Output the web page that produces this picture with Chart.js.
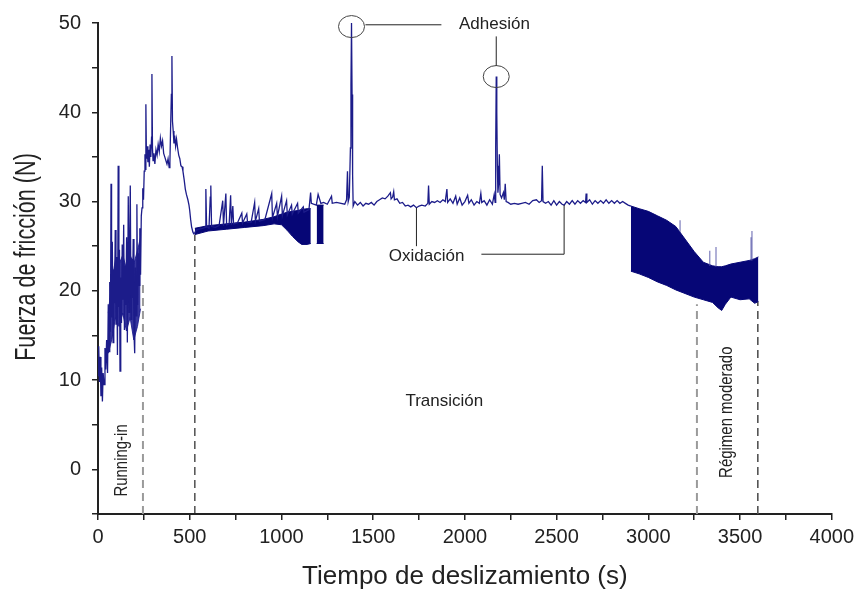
<!DOCTYPE html>
<html>
<head>
<meta charset="utf-8">
<script src="https://cdn.jsdelivr.net/npm/chart.js@4.4.1/dist/chart.umd.min.js"></script>
<style>
	body { margin: 0; background: #fff; }
	#chart { display: block; }
</style>
</head>
<body>
<canvas id="chart" width="859" height="591"></canvas>
<script>
// main friction trace, time (s) / force (N)
const mainTime = [
	0, 4, 8, 12, 16, 20, 24, 28, 33, 38, 42, 47, 52, 56, 60, 64, 68, 71, 74, 78,
	82, 86, 90, 94, 98, 102, 106, 110, 114, 117, 120, 124, 128, 132, 136, 140, 144, 148, 152, 156,
	160, 165, 169, 172, 176, 180, 184, 188, 192, 196, 200, 204, 208, 212, 216, 220, 224, 228, 232, 236,
	240, 244, 248, 252, 256, 259, 261, 264, 268, 272, 276, 280, 284, 288, 292, 294, 297, 300, 305, 310,
	316, 322, 328, 334, 340, 346, 352, 358, 364, 370, 376, 382, 388, 392, 396, 400, 403, 406, 410, 414,
	418, 423, 428, 434, 440, 446, 452, 458, 463, 470, 476, 482, 490, 496, 500, 505, 510, 517, 522, 528,
	535, 550, 570, 585, 588, 592, 605, 612, 615, 619, 640, 660, 680, 684, 697, 701, 715, 723, 727, 735,
	739, 760, 784, 788, 811, 815, 835, 854, 858, 876, 880, 910, 947, 951, 974, 978, 1001, 1005, 1028, 1032,
	1055, 1059, 1088, 1092, 1119, 1123, 1150, 1159, 1163, 1175, 1190, 1200, 1215, 1230, 1250, 1273, 1277, 1300, 1325, 1345,
	1355, 1360, 1364, 1370, 1376, 1379, 1382, 1385, 1388, 1391, 1400, 1415, 1430, 1445, 1460, 1475, 1490, 1505, 1520, 1535,
	1550, 1565, 1580, 1594, 1598, 1606, 1612, 1616, 1630, 1645, 1660, 1675, 1690, 1705, 1720, 1736, 1750, 1765, 1784, 1798,
	1802, 1806, 1820, 1835, 1850, 1865, 1880, 1893, 1902, 1906, 1920, 1935, 1950, 1958, 1972, 1985, 2000, 2015, 2022, 2035,
	2050, 2065, 2079, 2087, 2092, 2105, 2120, 2135, 2150, 2160, 2165, 2168, 2171, 2174, 2177, 2180, 2184, 2188, 2192, 2200,
	2210, 2215, 2220, 2225, 2235, 2250, 2270, 2290, 2310, 2330, 2350, 2370, 2390, 2405, 2418, 2422, 2426, 2440, 2455, 2470,
	2485, 2500, 2515, 2530, 2541, 2555, 2570, 2585, 2600, 2615, 2630, 2645, 2658, 2661, 2665, 2680, 2695, 2710, 2725, 2740,
	2755, 2770, 2785, 2800, 2815, 2830, 2845, 2860, 2875, 2890, 2905
];
const mainForce = [
	10.5, 13.8, 9.8, 12.6, 8.2, 11.4, 7.6, 10.8, 9.5, 13.6, 11.2, 14.5, 10.8, 18.5, 13.2, 21.0, 15.4, 32.0, 17.0, 25.5,
	14.2, 22.4, 18.6, 26.8, 16.2, 23.8, 12.8, 34.0, 18.2, 24.6, 11.0, 21.5, 16.4, 25.2, 19.0, 27.4, 15.6, 22.8, 18.4, 26.0,
	14.2, 30.6, 17.6, 24.2, 31.8, 16.8, 23.6, 19.2, 25.8, 15.4, 13.0, 22.6, 17.2, 29.7, 18.4, 24.2, 20.6, 27.0, 21.8, 28.4,
	29.3, 31.5, 30.2, 33.4, 35.3, 33.6, 40.9, 34.8, 36.2, 34.4, 35.8, 33.9, 36.4, 35.0, 37.2, 44.3, 36.0, 34.6, 35.4, 34.2,
	35.8, 35.2, 36.4, 35.6, 37.1, 36.2, 36.8, 35.4, 35.0, 34.6, 34.2, 34.8, 33.8, 34.4, 38.5, 42.0, 46.3, 39.0, 37.9, 36.5,
	37.4, 36.2, 37.0, 36.0, 35.2, 34.8, 34.0, 33.9, 33.4, 32.4, 31.4, 30.8, 30.2, 29.6, 29.0, 28.0, 27.2, 26.6, 26.4, 26.5,
	26.8, 26.9, 27.0, 27.1, 31.4, 27.2, 27.0, 30.5, 31.8, 27.2, 27.1, 27.3, 30.1, 27.3, 30.9, 27.4, 27.5, 30.7, 27.4, 29.5,
	27.5, 27.6, 28.7, 27.6, 28.6, 27.7, 27.7, 29.9, 27.8, 29.2, 27.8, 28.0, 30.9, 28.2, 29.8, 28.3, 30.6, 28.4, 30.1, 28.5,
	29.6, 28.6, 29.8, 28.7, 29.4, 28.8, 29.1, 31.0, 29.8, 29.7, 29.6, 30.8, 29.8, 29.9, 29.7, 30.6, 29.8, 29.9, 29.8, 29.7,
	30.2, 33.4, 30.0, 30.5, 36.0, 43.0, 50.0, 42.0, 33.0, 29.5, 30.0, 29.6, 29.9, 29.5, 29.8, 29.7, 29.9, 29.6, 30.0, 30.2,
	30.4, 30.3, 30.6, 31.0, 30.3, 30.5, 31.1, 30.2, 30.3, 29.8, 29.9, 29.5, 29.6, 29.4, 29.6, 29.3, 29.5, 29.6, 29.5, 29.8,
	31.8, 29.7, 30.0, 29.9, 30.1, 29.9, 30.2, 30.0, 31.4, 29.9, 30.3, 29.8, 30.6, 29.7, 30.4, 29.6, 30.0, 30.7, 29.8, 30.2,
	29.6, 30.0, 29.8, 30.9, 29.9, 30.1, 29.6, 30.2, 29.7, 30.8, 29.9, 36.0, 44.0, 40.0, 34.0, 31.0, 32.0, 35.3, 30.8, 30.4,
	31.0, 30.2, 32.0, 30.0, 29.9, 29.7, 29.8, 29.7, 29.8, 29.9, 29.7, 30.1, 30.2, 29.9, 30.1, 34.0, 30.0, 29.8, 30.0, 29.6,
	30.1, 29.6, 30.0, 29.7, 29.6, 30.0, 29.7, 30.1, 29.7, 30.1, 29.8, 30.1, 29.9, 30.9, 29.9, 30.2, 29.7, 30.1, 29.8, 30.1,
	29.8, 30.2, 29.8, 30.1, 29.8, 30.1, 29.8, 30.0, 29.8, 29.6, 29.5
];

// dark core of the running-in scatter
const coreTime  = [56, 75, 95, 115, 135, 155, 175, 195, 215, 232];
const coreUpper = [17.5, 21.0, 23.5, 23.0, 24.0, 22.5, 24.0, 23.0, 24.5, 26.0];
const coreLower = [13.0, 14.5, 17.0, 16.0, 17.5, 15.5, 17.0, 14.5, 16.0, 18.0];

// dense band after running-in (transition zone)
const bandATime  = [528, 600, 700, 800, 900, 960, 1000, 1030, 1060, 1090, 1110, 1140, 1160];
const bandAUpper = [27.0, 27.3, 27.5, 27.7, 28.0, 28.3, 28.6, 28.8, 28.9, 29.0, 29.1, 29.2, 29.2];
const bandALower = [26.3, 26.7, 26.9, 27.1, 27.3, 27.5, 27.4, 26.8, 26.1, 25.5, 25.2, 25.2, 25.3];
const bandA2Time  = [1192, 1230];
const bandA2Upper = [29.6, 29.6];
const bandA2Lower = [25.3, 25.3];

// dense band at the end of the test (mild wear regime)
const bandBTime  = [2905, 2950, 3000, 3050, 3100, 3150, 3200, 3250, 3300, 3350, 3380, 3400, 3420, 3450, 3500, 3550, 3580, 3600];
const bandBUpper = [29.5, 29.2, 28.9, 28.4, 27.9, 27.2, 25.8, 24.4, 23.2, 22.8, 22.7, 22.7, 22.8, 23.0, 23.2, 23.4, 23.6, 23.8];
const bandBLower = [22.2, 21.9, 21.5, 21.0, 20.6, 20.1, 19.7, 19.3, 19.0, 18.7, 18.1, 17.8, 18.5, 19.3, 19.0, 19.1, 18.6, 18.8];
const spikeBTime = [3173, 3335, 3369, 3560, 3565];
const spikeBBase = [26.6, 22.8, 22.7, 23.4, 23.4];
const spikeBTop  = [27.9, 24.5, 24.9, 26.0, 26.7];

// dashed regime limits
const limitTime  = [245, 528, 3265, 3597];
const limitTop   = [21.0, 26.3, 18.5, 18.8];
const limitColor = ['#9a9a9a', '#222', '#9a9a9a', '#555'];
const limitWidth = [2, 1.2, 2, 1.6];

const xTicks = [0, 500, 1000, 1500, 2000, 2500, 3000, 3500, 4000];
const yTicks = [0, 10, 20, 30, 40, 50];

const lineColor = 'rgb(28,28,138)';
const bandColor = 'rgb(6,6,118)';

function pts(xs, ys) {
	return xs.map((x, i) => ({x: x, y: ys[i]}));
}

let datasets = [];

datasets.push({
	data: pts(mainTime, mainForce),
	borderColor: lineColor,
	borderWidth: 1.3,
});

let spikes = [];
spikeBTime.forEach((t, i) => {
	spikes.push({x: t, y: spikeBBase[i]}, {x: t, y: spikeBTop[i]}, {x: t, y: null});
});
datasets.push({
	data: spikes,
	borderColor: 'rgba(90,90,170,0.8)',
	borderWidth: 1.2,
	spanGaps: false,
});

const bands = [
	[coreTime, coreUpper, coreLower, 'rgba(20,20,140,0.85)'],
	[bandATime, bandAUpper, bandALower, bandColor],
	[bandA2Time, bandA2Upper, bandA2Lower, bandColor],
	[bandBTime, bandBUpper, bandBLower, bandColor],
];
for (let band of bands) {
	datasets.push({
		data: pts(band[0], band[1]),
		borderColor: band[3],
		borderWidth: 1,
	});
	datasets.push({
		data: pts(band[0], band[2]),
		borderColor: band[3],
		borderWidth: 1,
		backgroundColor: band[3],
		fill: '-1',
	});
}

limitTime.forEach((t, i) => {
	datasets.push({
		data: [{x: t, y: -5}, {x: t, y: limitTop[i]}],
		borderColor: limitColor[i],
		borderWidth: limitWidth[i],
		borderDash: [8, 5],
	});
});

for (let ds of datasets) {
	ds.showLine = true;
	ds.pointRadius = 0;
	ds.tension = 0;
	if (ds.fill === undefined) ds.fill = false;
}

// labels and pointers, positioned in data units
const notes = {
	ellipses: [[1382, 49.6], [2171, 44.0]],
	lines: [
		[[1458, 49.8], [1872, 49.8]],
		[[2171, 48.5], [2171, 45.2]],
		[[1736, 29.3], [1736, 25.0]],
		[[2090, 24.1], [2541, 24.1], [2541, 29.6]],
	],
	texts: [
		['Adhesión', 2161, 49.8, 0],
		['Oxidación', 1791, 23.9, 0],
		['Transición', 1888, 7.6, 0],
		['Running-in', 131, 1.0, 1],
		['Régimen moderado', 3429, 6.4, 1],
	],
};

const notesPlugin = {
	id: 'notes',
	afterDatasetsDraw(chart) {
		const ctx = chart.ctx;
		const X = v => chart.scales.x.getPixelForValue(v);
		const Y = v => chart.scales.y.getPixelForValue(v);
		ctx.save();
		ctx.strokeStyle = '#444';
		ctx.lineWidth = 1;
		for (let e of notes.ellipses) {
			ctx.beginPath();
			ctx.ellipse(X(e[0]), Y(e[1]), 13, 11, 0, 0, Math.PI * 2);
			ctx.stroke();
		}
		ctx.strokeStyle = '#222';
		for (let l of notes.lines) {
			ctx.beginPath();
			l.forEach((p, i) => {
				if (i === 0) ctx.moveTo(X(p[0]), Y(p[1]));
				else ctx.lineTo(X(p[0]), Y(p[1]));
			});
			ctx.stroke();
		}
		ctx.fillStyle = '#222';
		ctx.textAlign = 'center';
		ctx.textBaseline = 'middle';
		ctx.font = '17px "Liberation Sans", Arial, sans-serif';
		for (let t of notes.texts) {
			ctx.save();
			ctx.translate(X(t[1]), Y(t[2]));
			if (t[3]) {
				ctx.rotate(-Math.PI / 2);
				ctx.scale(0.88, 1.05);
			}
			ctx.fillText(t[0], 0, 0);
			ctx.restore();
		}
		ctx.restore();
	},
	afterDraw(chart) {
		// condensed vertical axis title
		const ctx = chart.ctx;
		ctx.save();
		ctx.translate(27, 257);
		ctx.rotate(-Math.PI / 2);
		ctx.scale(0.72, 1);
		ctx.font = '30px "Liberation Sans", Arial, sans-serif';
		ctx.fillStyle = '#222';
		ctx.textAlign = 'center';
		ctx.textBaseline = 'middle';
		ctx.fillText('Fuerza de fricción (N)', 0, 0);
		ctx.restore();
	},
};

const axisColor = '#222';

new Chart(document.getElementById('chart'), {
	type: 'scatter',
	data: {datasets: datasets},
	options: {
		responsive: false,
		animation: false,
		devicePixelRatio: 1,
		layout: {padding: {top: 22, right: 26, left: 0, bottom: 0}},
		plugins: {
			legend: {display: false},
			tooltip: {enabled: false},
		},
		scales: {
			x: {
				type: 'linear',
				min: 0,
				max: 4000,
				afterFit: s => { s.height = 77; },
				afterBuildTicks: s => {
					s.ticks = [];
					for (let v = 0; v <= 4000; v += 250) s.ticks.push({value: v});
				},
				ticks: {
					autoSkip: false,
					maxRotation: 0,
					padding: 5,
					color: axisColor,
					font: {size: 20, family: '"Liberation Sans", Arial, sans-serif'},
					callback: v => xTicks.includes(v) ? String(v) : '',
				},
				grid: {drawOnChartArea: false, color: axisColor, lineWidth: 1.5, tickLength: 6},
				border: {color: axisColor, width: 2},
				title: {
					display: true,
					text: 'Tiempo de deslizamiento (s)',
					color: axisColor,
					font: {size: 26, lineHeight: 1, family: '"Liberation Sans", Arial, sans-serif'},
					padding: {top: 2, bottom: 1},
				},
			},
			y: {
				min: -5,
				max: 50,
				afterFit: s => { s.width = 98; },
				afterBuildTicks: s => {
					s.ticks = [];
					for (let v = -5; v <= 50; v += 5) s.ticks.push({value: v});
				},
				ticks: {
					autoSkip: false,
					padding: 11,
					color: axisColor,
					font: {size: 20, family: '"Liberation Sans", Arial, sans-serif'},
					callback: v => yTicks.includes(v) ? String(v) : '',
				},
				grid: {drawOnChartArea: false, color: axisColor, lineWidth: 1.5, tickLength: 6},
				border: {color: axisColor, width: 2},
			},
		},
	},
	plugins: [notesPlugin],
});
</script>
</body>
</html>
